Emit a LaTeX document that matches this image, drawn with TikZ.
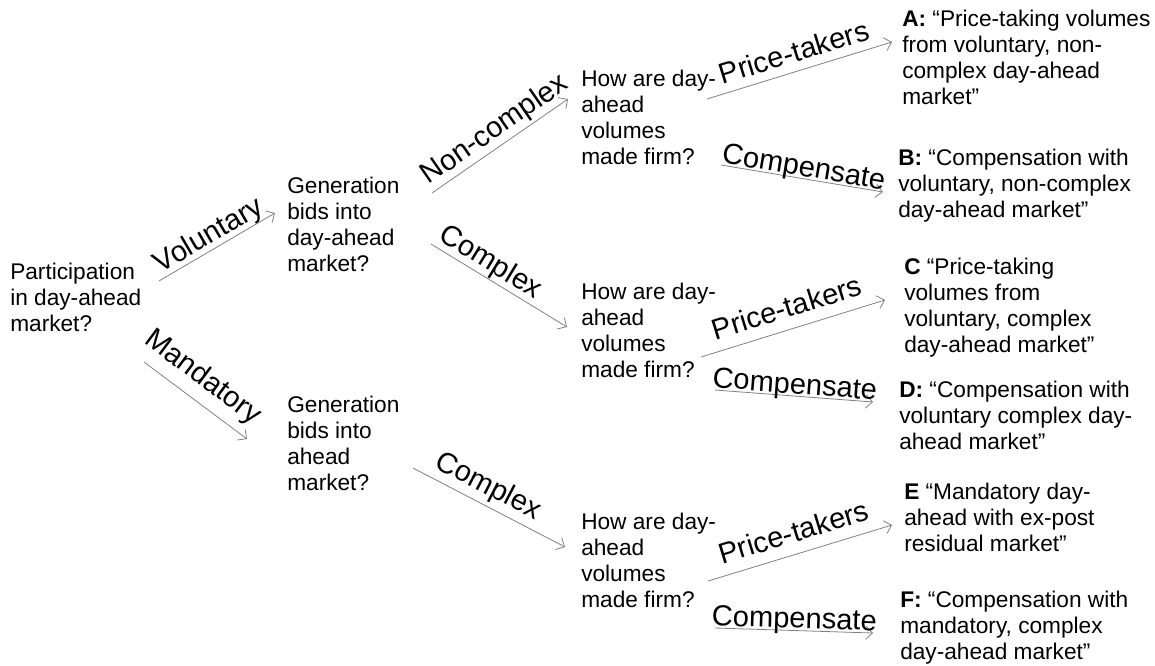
\documentclass[tikz,border=0pt]{standalone}
\usepackage{fontspec}
\setmainfont{Liberation Sans}
\usetikzlibrary{arrows.meta}
\newcommand{\stack}[1]{\begin{tabular}[t]{@{}l@{}}#1\end{tabular}}
\begin{document}
\begin{tikzpicture}[x=0.75pt, y=-0.75pt,
  txt/.style={anchor=base west, inner sep=0pt, font=\fontsize{17}{19.7}\selectfont},
  conn/.style={draw=gray, line width=0.6pt, -{Straight Barb[length=5pt,width=10pt]}},
  lbl/.style={sloped, inner sep=0pt, text depth=0pt, font=\fontsize{21.8}{26}\selectfont}]
\useasboundingbox (0,0) rectangle (1155,665);

% decision questions
\node[txt] (q0) at (10,279) {\stack{Participation\\ in day-ahead\\ market?}};
\node[txt] (g1) at (287,193) {\stack{Generation\\ bids into\\ day-ahead\\ market?}};
\node[txt] (g2) at (287,412) {\stack{Generation\\ bids into\\ ahead\\ market?}};
\node[txt] (h1) at (581,86) {\stack{How are day-\\ ahead\\ volumes\\ made firm?}};
\node[txt] (h2) at (581,299) {\stack{How are day-\\ ahead\\ volumes\\ made firm?}};
\node[txt] (h3) at (581,529) {\stack{How are day-\\ ahead\\ volumes\\ made firm?}};

% outcomes
\node[txt] (rA) at (902,26) {\stack{\textbf{A:} “Price-taking volumes\\ from voluntary, non-\\ complex day-ahead\\ market”}};
\node[txt] (rB) at (898,165) {\stack{\textbf{B:} “Compensation with\\ voluntary, non-complex\\ day-ahead market”}};
\node[txt] (rC) at (904,274) {\stack{\textbf{C} “Price-taking\\ volumes from\\ voluntary, complex\\ day-ahead market”}};
\node[txt] (rD) at (899,397) {\stack{\textbf{D:} “Compensation with\\ voluntary complex day-\\ ahead market”}};
\node[txt] (rE) at (904,499) {\stack{\textbf{E} “Mandatory day-\\ ahead with ex-post\\ residual market”}};
\node[txt] (rF) at (900,607) {\stack{\textbf{F:} “Compensation with\\ mandatory, complex\\ day-ahead market”}};

% connector end points
\coordinate (c1s) at (159,281); \coordinate (c1e) at (275,213);
\coordinate (c2s) at (144,362); \coordinate (c2e) at (247,439);
\coordinate (c3s) at (432,193); \coordinate (c3e) at (568,99);
\coordinate (c4s) at (431,244); \coordinate (c4e) at (567,327);
\coordinate (c5s) at (413,468); \coordinate (c5e) at (565,547);
\coordinate (c6s) at (707,99);  \coordinate (c6e) at (892,42);
\coordinate (c7s) at (721,165); \coordinate (c7e) at (883,192);
\coordinate (c8s) at (701,357); \coordinate (c8e) at (885,300);
\coordinate (c9s) at (715,390); \coordinate (c9e) at (873,402);
\coordinate (c10s) at (708,581); \coordinate (c10e) at (892,525);
\coordinate (c11s) at (715,628); \coordinate (c11e) at (873,633);

% branches with their labels
\draw[conn] (c1s) -- node[lbl, pos=.49, above=4pt] (l1) {Voluntary} (c1e);
\draw[conn] (c2s) -- node[lbl, pos=.44, above=11pt] (l2) {Mandatory} (c2e);
\draw[conn] (c3s) -- node[lbl, pos=.53, above=6pt] (l3) {Non-complex} (c3e);
\draw[conn] (c4s) -- node[lbl, pos=.38, above=5pt] (l4) {Complex} (c4e);
\draw[conn] (c5s) -- node[lbl, pos=.44, above=7.5pt] (l5) {Complex} (c5e);
\draw[conn] (c6s) -- node[lbl, pos=.5, above=6.5pt] (l6) {Price-takers} (c6e);
\draw[conn] (c7s) -- node[lbl, pos=.5, above=1.5pt] (l7) {Compensate} (c7e);
\draw[conn] (c8s) -- node[lbl, pos=.5, above=8.5pt] (l8) {Price-takers} (c8e);
\draw[conn] (c9s) -- node[lbl, pos=.5, above=1.5pt] (l9) {Compensate} (c9e);
\draw[conn] (c10s) -- node[lbl, pos=.5, above=8.5pt] (l10) {Price-takers} (c10e);
\draw[conn] (c11s) -- node[lbl, pos=.5, above=1.5pt] (l11) {Compensate} (c11e);
\end{tikzpicture}
\end{document}
